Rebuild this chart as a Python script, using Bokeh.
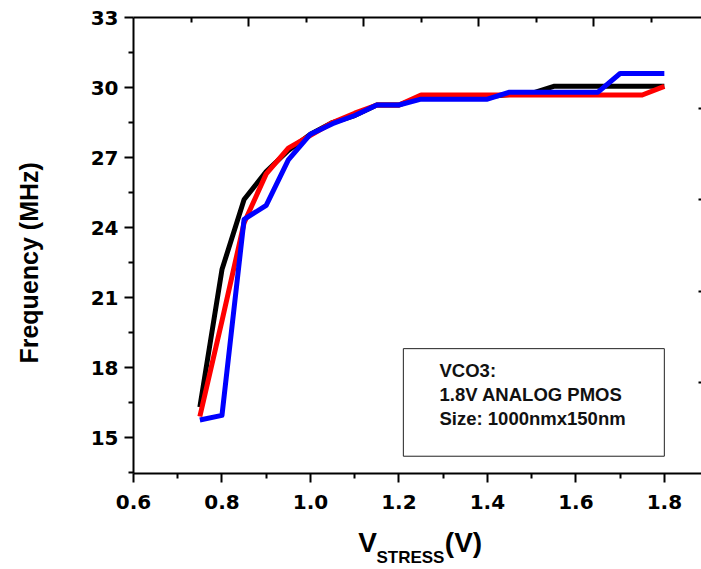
from bokeh.plotting import figure
from bokeh.models import (Label, BoxAnnotation, LinearAxis, Range1d, FixedTicker)
from bokeh.embed import file_html
from bokeh.resources import INLINE

# ---- data ----
v_stress = [0.75, 0.80, 0.85, 0.90, 0.95, 1.00, 1.05, 1.10, 1.15, 1.20, 1.25,
            1.30, 1.35, 1.40, 1.45, 1.50, 1.55, 1.60, 1.65, 1.70, 1.75, 1.80]
freq_black = [16.3, 22.2, 25.2, 26.4, 27.3, 28.0, 28.5, 28.8, 29.25, 29.25, 29.6,
              29.6, 29.6, 29.6, 29.7, 29.75, 30.05, 30.05, 30.05, 30.05, 30.05, 30.05]
freq_red = [15.9, 20.0, 24.2, 26.3, 27.4, 27.95, 28.5, 28.9, 29.25, 29.25, 29.68,
            29.68, 29.68, 29.68, 29.68, 29.68, 29.68, 29.68, 29.68, 29.68, 29.68, 30.05]
freq_blue = [15.75, 15.95, 24.35, 24.95, 26.9, 28.0, 28.45, 28.8, 29.25, 29.25, 29.5,
             29.5, 29.5, 29.5, 29.8, 29.8, 29.8, 29.8, 29.8, 30.6, 30.6, 30.6]

x_ticks = [0.6, 0.8, 1.0, 1.2, 1.4, 1.6, 1.8]
x_tick_labels = ["0.6", "0.8", "1.0", "1.2", "1.4", "1.6", "1.8"]
x_minor = [0.7, 0.9, 1.1, 1.3, 1.5, 1.7]
y_ticks = [15, 18, 21, 24, 27, 30, 33]
y_tick_labels = ["15", "18", "21", "24", "27", "30", "33"]
y_minor = [13.5, 16.5, 19.5, 22.5, 25.5, 28.5, 31.5]
top_major = [2, 4, 6, 8]
top_minor = [1, 3, 5, 7, 9]
right_major = [1, 2, 3, 4]

box_lines = ["VCO3:", "1.8V ANALOG PMOS", "Size: 1000nmx150nm"]
y_title = "Frequency (MHz)"
x_title_main, x_title_sub, x_title_unit = "V", "STRESS", "(V)"

X_START, X_END = 0.6, 1.884
Y_START, Y_END = 13.46, 33.0

W, H = 701, 569
FRAME_L, FRAME_T, FRAME_B = 133, 17, 473
FRAME_W = W - FRAME_L
PX = (X_END - X_START) / FRAME_W  # data units per pixel along x

p = figure(width=W, height=H, output_backend="svg", toolbar_location=None,
           x_range=Range1d(X_START, X_END), y_range=Range1d(Y_START, Y_END),
           min_border_left=FRAME_L, min_border_right=0, min_border_top=FRAME_T,
           min_border_bottom=H - FRAME_B)
p.outline_line_color = None
p.xgrid.grid_line_color = None
p.ygrid.grid_line_color = None
p.background_fill_color = "white"
p.border_fill_color = "white"

p.extra_x_ranges = {"top": Range1d(0, 10 * (X_END - X_START) / 1.3)}
p.extra_y_ranges = {"right": Range1d(0, 5)}

TICK_FONT = "DejaVu Sans"

for ax in (p.xaxis[0], p.yaxis[0]):
    ax.axis_line_width = 2
    ax.major_tick_line_width = 2
    ax.minor_tick_line_width = 2
    ax.major_tick_in = 0
    ax.major_tick_out = 9
    ax.minor_tick_in = 0
    ax.minor_tick_out = 5
    ax.major_label_text_font = TICK_FONT
    ax.major_label_text_font_style = "bold"
    ax.major_label_text_font_size = "20px"
    ax.major_label_text_color = "black"

p.xaxis[0].ticker = FixedTicker(ticks=x_ticks, minor_ticks=x_minor)
p.xaxis[0].major_label_overrides = {t: s for t, s in zip(x_ticks, x_tick_labels)}
p.xaxis[0].major_label_standoff = 12
p.yaxis[0].ticker = FixedTicker(ticks=y_ticks, minor_ticks=y_minor)
p.yaxis[0].major_label_overrides = {t: s for t, s in zip(y_ticks, y_tick_labels)}
p.yaxis[0].major_label_standoff = 6

# y title as axis label, padded with trailing no-break spaces to sit a bit lower
p.yaxis[0].axis_label = y_title + "\u00a0" * 5
p.yaxis[0].axis_label_text_font = "Liberation Sans"
p.yaxis[0].axis_label_text_font_style = "bold"
p.yaxis[0].axis_label_text_font_size = "25px"
p.yaxis[0].axis_label_text_color = "black"
p.yaxis[0].axis_label_standoff = 45

# x title: "V" and "(V)" as labels of a second bottom axis, "STRESS" as its subscript title
xv = round(X_START + (367 - FRAME_L) * PX, 6)
xu = round(X_START + (463 - FRAME_L) * PX, 6)
title_axis = LinearAxis(ticker=FixedTicker(ticks=[xv, xu], minor_ticks=[]),
                        major_label_overrides={xv: x_title_main, xu: x_title_unit},
                        axis_line_color=None, major_tick_line_color=None,
                        minor_tick_line_color=None, major_tick_in=0, major_tick_out=0,
                        minor_tick_in=0, minor_tick_out=0,
                        major_label_standoff=15,
                        major_label_text_font="Liberation Sans",
                        major_label_text_font_style="bold",
                        major_label_text_font_size="28px",
                        major_label_text_color="black",
                        axis_label=x_title_sub + "\u00a0" * 3,
                        axis_label_standoff=-13,
                        axis_label_text_font="Liberation Sans",
                        axis_label_text_font_style="bold",
                        axis_label_text_font_size="17px",
                        axis_label_text_color="black")
p.add_layout(title_axis, "below")

top_axis = LinearAxis(x_range_name="top",
                      ticker=FixedTicker(ticks=top_major, minor_ticks=top_minor),
                      major_tick_in=9, major_tick_out=0, minor_tick_in=5, minor_tick_out=0,
                      axis_line_width=2, major_tick_line_width=2, minor_tick_line_width=2,
                      major_label_overrides={t: "" for t in top_major},
                      major_label_standoff=0)
p.add_layout(top_axis, "above")

right_axis = LinearAxis(y_range_name="right",
                        ticker=FixedTicker(ticks=right_major, minor_ticks=[]),
                        major_tick_in=3, major_tick_out=0, minor_tick_in=0, minor_tick_out=0,
                        axis_line_color=None, major_tick_line_width=2,
                        major_label_overrides={t: "" for t in right_major},
                        major_label_standoff=0)
p.add_layout(right_axis, "right")

LW = 5
p.line(v_stress, freq_black, line_color="#000000", line_width=LW, line_join="round")
p.line(v_stress, freq_red, line_color="#FF0000", line_width=LW, line_join="round")
p.line(v_stress, freq_blue, line_color="#0000FF", line_width=LW, line_join="round")

# annotation box
p.add_layout(BoxAnnotation(left=1.21, right=1.80, top=18.81, bottom=14.2,
                           fill_color=None, line_color="#222222", line_width=1,
                           line_alpha=1.0))
for txt, yoff in zip(box_lines, [103.5, 79.5, 55]):
    p.add_layout(Label(x=X_START, y=Y_START, x_offset=306, y_offset=yoff, text=txt,
                       text_font="Liberation Sans", text_font_style="bold",
                       text_font_size="18.5px", text_color="#111111",
                       text_align="left", text_baseline="alphabetic"))

open("out.html", "w").write(file_html(p, INLINE))
